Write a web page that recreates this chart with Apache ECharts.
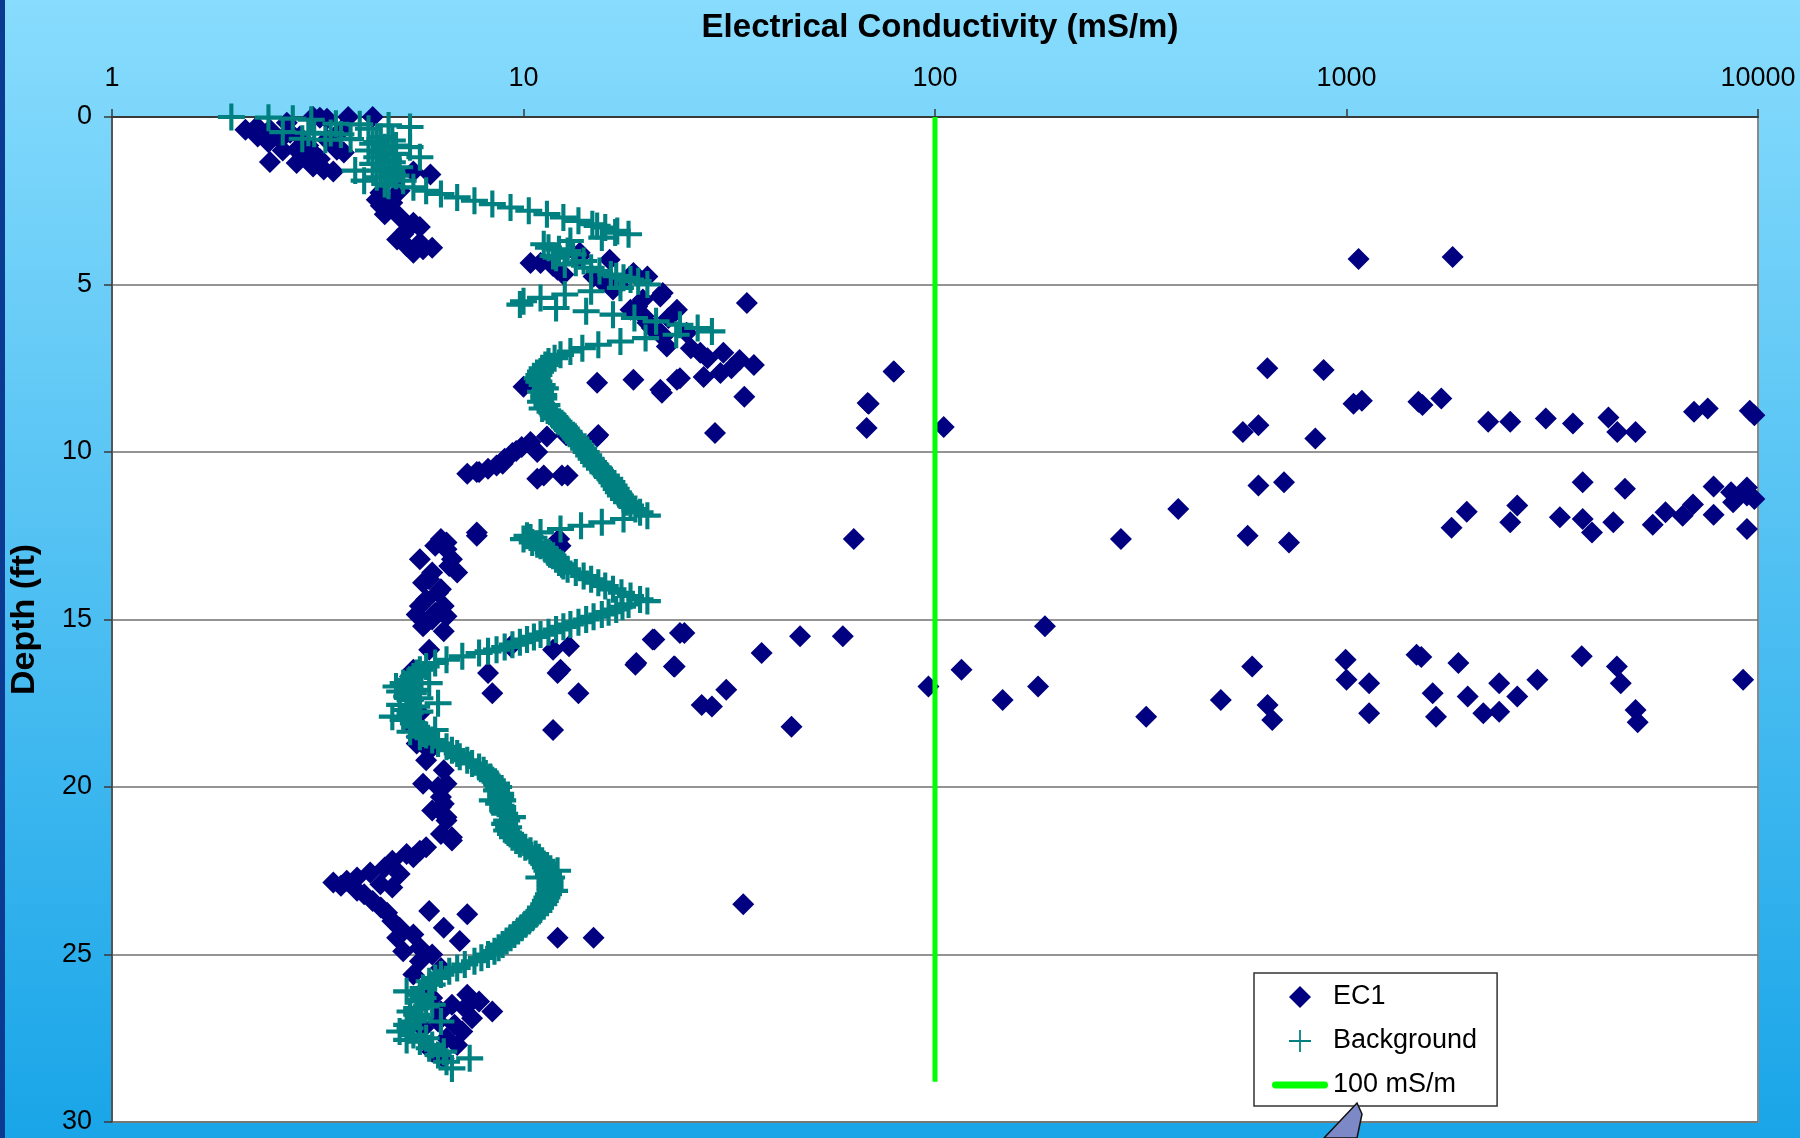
<!DOCTYPE html>
<html>
<head>
    <title>Electrical Conductivity</title>
    <meta charset="utf-8">
    <style>
        body {
            margin: 0;
            padding: 0;
            background: #1aa6e8;
        }
        #chart {
            width: 1800px;
            height: 1138px;
        }
    </style>
</head>
<body>
    <script src="https://cdn.jsdelivr.net/npm/echarts/dist/echarts.min.js"></script>
    <div id="chart"></div>
    <script>
        // [EC (mS/m), depth (ft)]
        const ec1Points = [
            [3.75, 0], [4.3, 0], [3.33, 0.05], [3.08, 0], [3.2, 0.02], [2.11, 0.38], [2.26, 0.58], [2.42, 0.38],
            [2.56, 0.68], [2.71, 0.47], [2.86, 0.58], [3.33, 0.68], [3.52, 0.98], [2.42, 1.34], [2.81, 1.37],
            [3.08, 1.48], [3.45, 1.63], [3.08, 1.07], [2.81, 0.98], [2.66, 0.17], [2.25, 0.29], [3.0, 0.85],
            [2.95, 1.2], [3.2, 1.25], [2.6, 1.0], [3.6, 0.4], [2.4, 0.75], [3.27, 1.57], [3.66, 1.06], [3.45, 0.77],
            [5.94, 1.72], [5.4, 1.63], [4.4, 2.47], [4.66, 2.77], [5.0, 2.98], [5.4, 3.16], [5.6, 3.28], [4.93, 3.66],
            [5.4, 4.05], [6.0, 3.9], [4.49, 2.26], [4.8, 2.56], [5.2, 3.37], [4.6, 2.9], [5.1, 3.5], [5.6, 3.75],
            [5.2, 3.85], [4.5, 2.65], [5.0, 2.2], [5.7, 3.95],
            [10.4, 4.36], [11.0, 4.36], [12.1, 4.56], [13.7, 4.05], [16.2, 4.26], [14.8, 4.76], [16.5, 5.15],
            [20, 4.76], [21.5, 5.36], [18.9, 5.66], [20, 6.14], [21.8, 6.56], [23.6, 7.84], [21.5, 8.14],
            [18.5, 7.84], [15.1, 7.93], [10.0, 8.05], [11, 7.93], [13.7, 4.16], [18.5, 4.66], [21.8, 5.25],
            [23.6, 5.75], [34.9, 5.55], [18.2, 5.75], [19.6, 5.95], [21.5, 6.44], [22.3, 6.85], [24.9, 6.44],
            [26.9, 7.04], [30.6, 7.04], [33.5, 7.25], [36.3, 7.4], [30.1, 7.64], [27.4, 7.76], [24.0, 7.8],
            [21.7, 8.23], [34.4, 8.35], [79.3, 7.6], [68.6, 8.54], [68.2, 9.28], [29.2, 9.43], [15.2, 9.49],
            [12.7, 9.5], [11.8, 4.45], [12.5, 4.7], [15.5, 4.9], [17, 5.0], [19.5, 5.45], [22.5, 6.0], [20.5, 6.3],
            [25.5, 6.9], [28, 7.2], [32, 7.5],
            [9.4, 10.03], [7.8, 10.6], [8.6, 10.4], [10.4, 9.7], [11.2, 10.7], [12.8, 10.7], [15.1, 9.54],
            [11.4, 9.54], [7.7, 10.6], [9.0, 10.2], [9.6, 9.97], [10.8, 10.8], [12.4, 10.7], [8.2, 10.5],
            [9.9, 9.85], [10.8, 10.0], [8.9, 10.35], [7.3, 10.65],
            [7.7, 12.5], [6.3, 12.6], [6.5, 12.9], [5.6, 13.2], [6.7, 13.2], [6.9, 13.6], [6.0, 13.6], [5.7, 13.9],
            [6.3, 14.1], [5.8, 14.4], [6.4, 14.6], [5.5, 14.85], [6.5, 14.9], [5.8, 15.1], [6.4, 15.35], [5.9, 15.9],
            [6.1, 12.8], [6.6, 13.4], [5.9, 13.8], [6.2, 14.2], [5.6, 14.6], [6.0, 15.0], [5.7, 15.2], [6.1, 14.8],
            [6.5, 12.7], [12.3, 12.8], [9.3, 15.8], [11.8, 15.9], [12.9, 15.8], [8.2, 16.6], [8.4, 17.2],
            [12.1, 16.6], [13.6, 17.2], [11.8, 18.3], [20.6, 15.6], [18.7, 16.35], [23.2, 16.4], [24, 15.4],
            [7.7, 12.4], [12.2, 12.6], [12.3, 16.5],
            [5.4, 16.5], [5.5, 18.7], [5.7, 19.9], [6.4, 19.5], [6.3, 20.3], [6.0, 20.7], [6.5, 20.9], [6.3, 21.4],
            [6.7, 21.5], [6.5, 19.9], [5.9, 18.9], [5.4, 18.2], [5.3, 16.9], [5.4, 17.4], [5.6, 17.8], [5.3, 16.7],
            [5.8, 19.2], [6.2, 20.0], [6.4, 20.5], [5.5, 18.5],
            [6.3, 20.6], [6.5, 21.0], [6.7, 21.6], [5.8, 21.8], [5.4, 22.1], [4.8, 22.2], [5.0, 22.6], [3.45, 22.85],
            [3.72, 22.8], [3.94, 22.7], [4.24, 22.55], [4.49, 22.9], [3.94, 23.1], [4.8, 23.0], [4.3, 23.4],
            [4.66, 23.75], [5.0, 24.2], [4.93, 24.5], [5.4, 24.4], [5.9, 23.7], [6.4, 24.2], [7.0, 24.6], [7.3, 23.8],
            [12.1, 24.5], [14.8, 24.5], [5.6, 25.2], [5.4, 25.6], [6.3, 25.4], [7.3, 26.2], [7.8, 26.4], [8.4, 26.7],
            [7.5, 26.9], [7.1, 27.3], [6.5, 27.5], [6.9, 27.7], [6.3, 26.7], [6.7, 26.5], [34.2, 23.5],
            [4.1, 23.2], [3.6, 22.95], [4.6, 22.4], [5.2, 22.0], [5.6, 21.9], [4.5, 23.6], [4.8, 24.0], [5.1, 24.9],
            [5.6, 24.8], [6.0, 25.0], [5.8, 26.0], [6.0, 26.3], [6.2, 27.0], [6.0, 27.9], [6.4, 28.1], [6.8, 27.1],
            [7.2, 26.6], [5.7, 27.2],
            [1070, 4.24], [1811, 4.18],
            [79.5, 7.6], [69, 8.56], [105, 9.25], [642, 7.5], [880, 7.55], [1040, 8.56], [1090, 8.47], [560, 9.4],
            [611, 9.2], [840, 9.6], [1495, 8.5], [1530, 8.6], [1700, 8.4], [2210, 9.1], [2500, 9.1], [3050, 9.0],
            [3550, 9.15], [4330, 8.97], [4550, 9.4], [5040, 9.4], [6990, 8.8], [7550, 8.7], [9550, 8.77], [9800, 8.9],
            [611, 11.0], [705, 10.9], [390, 11.7], [283, 12.6], [575, 12.5], [725, 12.7], [63.5, 12.6],
            [1960, 11.78], [1800, 12.26], [2600, 11.6], [2500, 12.1], [3300, 11.95], [3750, 10.9], [4750, 11.1],
            [3750, 12.0], [3950, 12.4], [4450, 12.1], [5550, 12.17], [5960, 11.8], [6560, 11.9], [6950, 11.57],
            [7800, 11.87], [7800, 11.03], [8600, 11.2], [9400, 11.06], [8700, 11.5], [9800, 11.4], [9400, 12.3],
            [9400, 11.3],
            [20.8, 15.6], [24.6, 15.4], [18.8, 16.3], [23.3, 16.4], [37.9, 16.0], [47.0, 15.5], [59.7, 15.5],
            [31.1, 17.1], [27.1, 17.55], [28.7, 17.6], [44.8, 18.2], [96.4, 17.0], [116, 16.5], [146, 17.4],
            [178, 17.0], [185, 15.2], [326, 17.9], [495, 17.4], [590, 16.4], [643, 17.55], [660, 18.0], [995, 16.2],
            [1000, 16.8], [1135, 16.9], [1135, 17.8], [1480, 16.05], [1520, 16.12], [1620, 17.2], [1650, 17.9],
            [1870, 16.3], [1970, 17.3], [2150, 17.8], [2350, 17.75], [2350, 16.9], [2600, 17.3], [2910, 16.8],
            [3730, 16.1], [4540, 16.4], [4640, 16.9], [5040, 17.7], [5100, 18.07], [9200, 16.8]
        ];

        const bgPoints = [
            [1.95, 0.0], [2.4, 0.02], [2.75, 0.05], [3.05, 0.08], [3.5, 0.2], [4.0, 0.22], [4.7, 0.25], [5.3, 0.3],
            [4.2, 0.35], [2.6, 0.45], [3.0, 0.47], [3.4, 0.48], [3.1, 0.5], [3.6, 0.52], [4.5, 0.6], [2.9, 0.65],
            [3.8, 0.66], [3.3, 0.68], [4.8, 0.7], [4.3, 0.8], [5.3, 0.9], [4.6, 0.9], [4.2, 1.0], [4.9, 1.1],
            [5.6, 1.2], [4.4, 1.2], [4.7, 1.3], [4.3, 1.4], [5.0, 1.5], [4.5, 1.6], [3.9, 1.6], [4.8, 1.7], [4.4, 1.8],
            [5.1, 1.9], [4.1, 1.9], [4.6, 2.0], [4.4, 0.75], [4.9, 0.85], [4.5, 1.05], [4.8, 1.35], [4.6, 1.55],
            [4.9, 1.75], [4.7, 2.05],
            [5.4, 2.1], [5.8, 2.2], [6.3, 2.3], [6.9, 2.4], [7.6, 2.5], [8.4, 2.6],
            [9.3, 2.7], [10.3, 2.8], [11.4, 2.9], [12.5, 3.0], [13.6, 3.1], [14.7, 3.2], [15.8, 3.3], [16.9, 3.4],
            [18.0, 3.5], [15.5, 3.6], [13.0, 3.7], [11.2, 3.8], [11.5, 3.9], [12.8, 4.0], [13.2, 4.1], [12.0, 4.2],
            [14.0, 4.3], [12.6, 4.4], [14.6, 4.5], [15.3, 4.6], [16.3, 4.7], [17.5, 4.8], [19.0, 4.9], [20.0, 5.0],
            [12.2, 3.95], [11.8, 4.15], [13.4, 4.35], [16.8, 4.75], [18.2, 4.85], [16.7, 3.45], [15.1, 3.25],
            [17.2, 5.1], [14.6, 5.2], [12.6, 5.3], [11.0, 5.4], [10.0, 5.5], [9.8, 5.6], [12.0, 5.7], [14.2, 5.8],
            [16.5, 5.9], [18.6, 6.0], [21.0, 6.1], [24.0, 6.2], [26.5, 6.3], [28.7, 6.4], [23.5, 6.5], [19.8, 6.6],
            [17.2, 6.7], [15.2, 6.8], [13.9, 6.9], [13.0, 7.0], [12.3, 7.1], [11.9, 7.2], [11.5, 7.3], [11.3, 7.4],
            [11.1, 7.5], [11.0, 7.6], [10.9, 7.7], [10.8, 7.8], [10.9, 7.9], [11.1, 8.0], [11.3, 8.1], [11.0, 8.2],
            [11.2, 8.3], [11.2, 8.4], [11.0, 8.5], [11.4, 8.6], [11.1, 8.7], [11.6, 8.8], [11.8, 8.9], [12.0, 9.0],
            [12.2, 9.1], [12.5, 9.2], [12.7, 9.3], [12.9, 9.4], [13.2, 9.5], [13.4, 9.6], [13.6, 9.7], [13.8, 9.8],
            [14.0, 9.9], [14.2, 10.0], [14.4, 10.1], [14.6, 10.2], [14.8, 10.3], [15.0, 10.4], [15.3, 10.5],
            [15.6, 10.6], [15.9, 10.7], [16.2, 10.8], [16.4, 10.9], [16.6, 11.0], [16.8, 11.1], [17.0, 11.2],
            [17.2, 11.3], [17.5, 11.4], [17.8, 11.5], [18.2, 11.6], [18.7, 11.7], [19.2, 11.8], [20.0, 11.9],
            [17.5, 12.0], [15.5, 12.1],
            [13.8, 12.2], [12.3, 12.3], [11.0, 12.4], [10.2, 12.5], [10.0, 12.6], [10.5, 12.7], [11.0, 12.8],
            [11.3, 12.9], [11.5, 13.0], [11.8, 13.1], [12.0, 13.2], [12.2, 13.3], [12.5, 13.4], [12.8, 13.5],
            [10.4, 12.55], [10.8, 12.75], [11.6, 13.05], [12.4, 13.35],
            [13.4, 13.6], [14.0, 13.7], [14.6, 13.8], [15.2, 13.9], [15.8, 14.0], [16.5, 14.1], [17.3, 14.2],
            [18.2, 14.3], [19.2, 14.4], [20.0, 14.45], [18.0, 14.55], [16.8, 14.7], [15.5, 14.85], [14.2, 15.0],
            [13.0, 15.15], [12.0, 15.3], [11.0, 15.45], [10.2, 15.6], [9.4, 15.75], [8.6, 15.9], [7.8, 16.0],
            [17.4, 14.62], [16.1, 14.78], [14.8, 14.92], [13.6, 15.08], [12.5, 15.22], [11.5, 15.38], [10.6, 15.52],
            [9.8, 15.68], [9.0, 15.82], [8.2, 15.95],
            [7.1, 16.1], [6.5, 16.2], [6.1, 16.3], [5.8, 16.4], [5.6, 16.5], [5.5, 16.6], [5.3, 16.8], [5.1, 16.9],
            [5.9, 16.9], [4.9, 17.0], [5.3, 17.0], [5.5, 17.1], [5.4, 17.2], [5.2, 17.3], [5.3, 17.4], [6.2, 17.5],
            [5.5, 17.6], [5.2, 17.7], [5.3, 17.8], [4.8, 17.9], [5.1, 18.0], [5.4, 18.1], [5.5, 18.2], [6.1, 18.3],
            [5.7, 18.4], [5.6, 18.5], [6.0, 18.6], [6.2, 18.7], [6.5, 18.8], [6.7, 18.9], [6.9, 19.0], [7.3, 19.2],
            [5.4, 16.7], [5.0, 17.15], [5.6, 17.35], [5.0, 17.55], [5.6, 17.75], [5.3, 18.35], [5.8, 18.45],
            [7.0, 19.1], [7.5, 19.3], [8.0, 19.5], [8.3, 19.7], [8.6, 19.9],
            [7.8, 19.4], [8.1, 19.6], [8.4, 19.8], [8.7, 20.0], [8.6, 20.1], [8.8, 20.2], [8.9, 20.4], [8.4, 20.4],
            [8.7, 20.5], [8.9, 20.6], [9.0, 20.8], [9.4, 20.9], [9.1, 21.0], [9.0, 21.1], [9.2, 21.2], [9.3, 21.4],
            [8.8, 20.3], [8.9, 20.7], [9.1, 21.3], [9.4, 21.5], [9.8, 21.7], [10.4, 21.9], [10.9, 22.1],
            [11.2, 22.3], [11.4, 22.5], [11.6, 22.9], [11.6, 23.1], [11.4, 23.3], [11.2, 23.5], [10.9, 23.7],
            [10.5, 23.9], [10.1, 24.1], [9.7, 24.3], [9.3, 24.5], [8.9, 24.7], [8.5, 24.9], [7.9, 25.1], [7.2, 25.3],
            [6.6, 25.5], [6.1, 25.7],
            [9.6, 21.6], [10.1, 21.8], [10.7, 22.0], [11.1, 22.2], [11.3, 22.4], [12.1, 22.5], [11.5, 22.6],
            [11.7, 22.7], [10.9, 22.7], [11.6, 22.8], [11.6, 23.0], [11.9, 23.1], [11.5, 23.2], [11.3, 23.4],
            [11.0, 23.6], [10.7, 23.8], [10.3, 24.0], [9.9, 24.2], [9.5, 24.4], [9.1, 24.6], [8.7, 24.8], [8.2, 25.0],
            [7.6, 25.2], [6.9, 25.4], [6.3, 25.6], [5.9, 25.8], [6.0, 25.9], [5.7, 26.0], [5.2, 26.1], [5.6, 26.2],
            [5.7, 26.3], [5.6, 26.4], [6.0, 26.5], [5.5, 26.6], [5.5, 26.8], [5.4, 27.0], [6.3, 27.0], [5.3, 27.2],
            [5.0, 27.3], [5.4, 27.4], [5.6, 27.6], [5.9, 27.8], [6.4, 27.9], [6.2, 28.0], [7.4, 28.1], [6.5, 28.2],
            [5.8, 26.55], [5.3, 26.7], [5.6, 26.9], [5.2, 27.1], [5.8, 27.5], [5.2, 27.55], [6.0, 27.7],
            [6.7, 28.4]
        ];

        const limitLine = [[100, 0], [100, 28.8]];

        const xTicks = [1, 10, 100, 1000, 10000];
        const depthTicks = [0, 5, 10, 15, 20, 25, 30];

        const font = 'Liberation Sans, Arial, sans-serif';
        const crossIcon = 'path://M10.6,0h3.8v25h-3.8z M0,10.6h25v3.8h-25z';
        const legendCross = 'path://M11.5,0h2v25h-2z M0,11.5h25v2h-25z';

        let chart = echarts.init(document.getElementById('chart'));
        chart.setOption({
            animation: false,
            backgroundColor: {
                type: 'linear', x: 0, y: 0, x2: 0, y2: 1,
                colorStops: [{ offset: 0, color: '#88dcfd' }, { offset: 1, color: '#19a5e8' }]
            },
            title: {
                text: 'Electrical Conductivity (mS/m)',
                left: 935,
                top: 6,
                textAlign: 'center',
                textStyle: { fontFamily: font, fontSize: 33, fontWeight: 'bold', color: '#000' }
            },
            graphic: [
                { type: 'rect', left: 0, top: 0, shape: { width: 5, height: 1138 }, style: { fill: '#0b3a92' } },
                {
                    type: 'polygon',
                    shape: { points: [[1357, 1103], [1362, 1114], [1357, 1138], [1324, 1138]] },
                    style: { fill: '#7d88c6', stroke: '#111', lineWidth: 1.5 },
                    z: 20
                }
            ],
            grid: {
                left: 112, right: 42, top: 117, bottom: 16,
                show: true,
                backgroundColor: '#fff',
                borderColor: '#8a8a8a',
                borderWidth: 2
            },
            legend: {
                orient: 'vertical',
                left: 1254,
                top: 973,
                padding: [9, 20, 6, 18],
                backgroundColor: '#fff',
                borderColor: '#333',
                borderWidth: 1.5,
                itemWidth: 56,
                itemHeight: 22,
                itemGap: 14,
                textStyle: { fontFamily: font, fontSize: 27, color: '#000', lineHeight: 30 },
                data: [
                    { name: 'EC1', icon: 'path://M0,-10L10,0L0,10L-10,0Z' },
                    { name: 'Background', icon: legendCross },
                    { name: '100 mS/m', icon: 'path://M3,0h50a3.5,3.5,0,0,1,0,7h-50a3.5,3.5,0,0,1,0,-7z' }
                ]
            },
            xAxis: {
                type: 'log',
                logBase: 10,
                position: 'top',
                min: xTicks[0],
                max: xTicks[xTicks.length - 1],
                axisLine: { show: true, lineStyle: { color: '#3a3a3a', width: 2 } },
                axisTick: { show: true, length: 8, lineStyle: { color: '#3a3a3a', width: 1.5 } },
                splitLine: { show: false },
                axisLabel: {
                    fontFamily: font, fontSize: 27, color: '#000', margin: 25,
                    formatter: v => String(Math.round(v))
                }
            },
            yAxis: {
                type: 'value',
                inverse: true,
                min: depthTicks[0],
                max: depthTicks[depthTicks.length - 1],
                interval: 5,
                name: 'Depth (ft)',
                nameLocation: 'middle',
                nameRotate: 90,
                nameGap: 87,
                nameTextStyle: { fontFamily: font, fontSize: 34, fontWeight: 'bold', color: '#000',
                    verticalAlign: 'middle' },
                axisLine: { show: true, lineStyle: { color: '#555', width: 2 } },
                axisTick: { show: true, length: 8, lineStyle: { color: '#3a3a3a', width: 1.5 } },
                splitLine: { show: true, lineStyle: { color: '#707070', width: 1.5 } },
                axisLabel: { fontFamily: font, fontSize: 27, color: '#000', margin: 20 }
            },
            series: [
                {
                    name: 'EC1',
                    type: 'scatter',
                    symbol: 'diamond',
                    symbolSize: 22,
                    itemStyle: { color: '#000080', opacity: 1 },
                    data: ec1Points,
                    z: 2
                },
                {
                    name: 'Background',
                    type: 'scatter',
                    symbol: crossIcon,
                    symbolSize: 27,
                    itemStyle: { color: '#008080', opacity: 1 },
                    data: bgPoints,
                    z: 3
                },
                {
                    name: '100 mS/m',
                    type: 'line',
                    showSymbol: false,
                    symbol: 'none',
                    lineStyle: { color: '#00ff00', width: 5 },
                    itemStyle: { color: '#00ff00' },
                    data: limitLine,
                    z: 4
                }
            ]
        });
    </script>
</body>
</html>
